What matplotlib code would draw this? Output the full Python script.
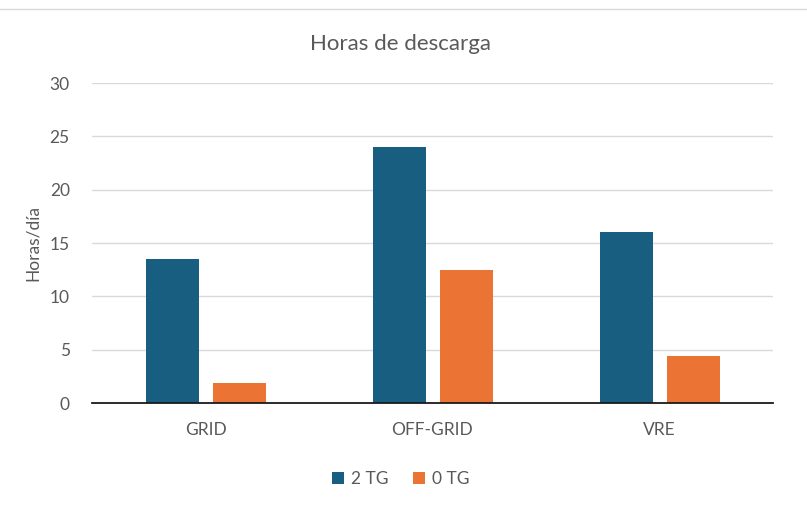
import numpy as np
import matplotlib.pyplot as plt
from matplotlib.lines import Line2D

plt.rcParams['font.family'] = ['Lato', 'DejaVu Sans']

# data
categories = ['GRID', 'OFF-GRID', 'VRE']
tg2 = [13.5, 24.0, 16.0]
tg0 = [1.9, 12.45, 4.45]
series_names = ['2 TG', '0 TG']

blue = '#175e80'
orange = '#eb7434'
grey_txt = '#595959'

fig = plt.figure(figsize=(8.07, 5.05), dpi=100)
ax = fig.add_axes([92/807, 1 - 403/505, 681/807, 320/505])

x = np.arange(len(categories))
w = 0.23
ax.bar(x - 0.145, tg2, w, color=blue, label=series_names[0], zorder=3)
ax.bar(x + 0.15, tg0, w, color=orange, label=series_names[1], zorder=3)

ax.set_xlim(-0.5, 2.5)
ax.set_ylim(0, 30)
ax.set_yticks(range(0, 31, 5))
ax.set_xticks(x)
ax.set_xticklabels(categories)
ax.grid(axis='y', color='#d9d9d9', linewidth=1, zorder=0)
for s in ['top', 'right', 'left']:
    ax.spines[s].set_visible(False)
ax.spines['bottom'].set_color('#1a1a1a')
ax.spines['bottom'].set_linewidth(1.3)
ax.spines['bottom'].set_zorder(4)
ax.tick_params(length=0, labelsize=12.5, colors=grey_txt)
ax.tick_params(axis='x', pad=14)
ax.tick_params(axis='y', pad=16)

ax.set_ylabel('Horas/día', fontsize=12.5, color=grey_txt, labelpad=6)
fig.text(400/807, 1 - 44/505, 'Horas de descarga', ha='center', va='center',
         fontsize=16, color=grey_txt)

# frame line at top
fig.add_artist(Line2D([0, 1], [1 - 9/505, 1 - 9/505], color='#d9d9d9', linewidth=1))

fig.legend(loc='center', bbox_to_anchor=(401/807, 1 - 479/505), ncol=2,
           frameon=False, fontsize=12.5, labelcolor=grey_txt,
           handlelength=0.7, handleheight=0.7, handletextpad=0.4, columnspacing=1.4)

plt.savefig('out.png', dpi=100)
